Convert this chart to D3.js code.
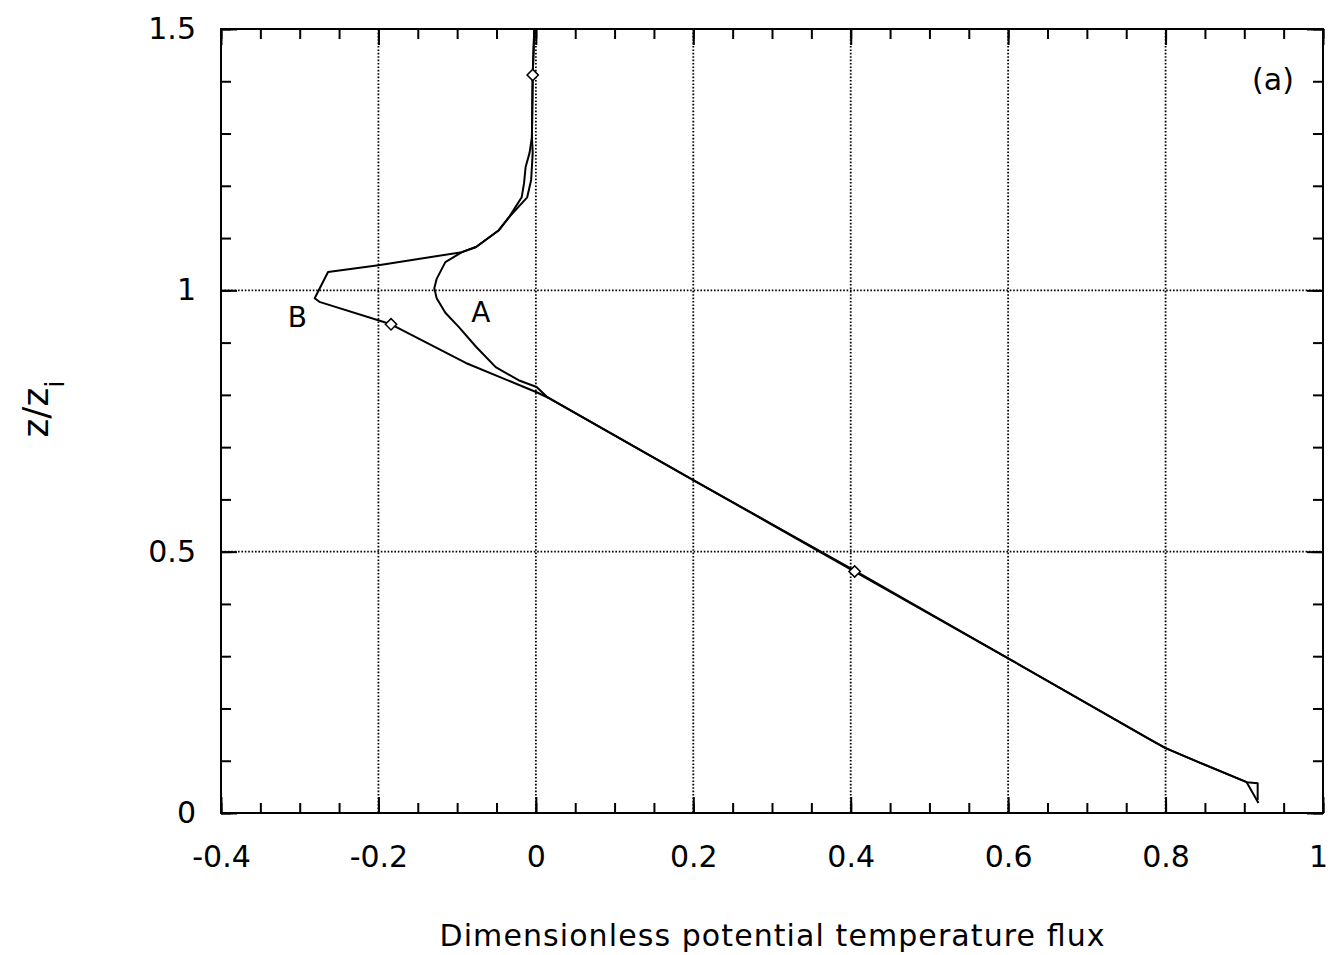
<!DOCTYPE html>
<html><head><meta charset="utf-8">
<script src="https://cdn.jsdelivr.net/npm/d3@7"></script>
<style>
body{margin:0;background:#fff}
text{font-family:"DejaVu Sans",sans-serif;fill:#000}
</style>
</head><body>
<svg id="c" width="1331" height="955"></svg>
<script>
// ---- data ----
const xTickValues = [-0.4, -0.2, 0, 0.2, 0.4, 0.6, 0.8, 1];
const yTickValues = [0, 0.5, 1, 1.5];
const xLabel = "Dimensionless potential temperature flux";
const panelLabel = "(a)";

// curve A (flux, height)
const curveAFlux   = [0.918, 0.903, 0.844, 0.800, 0.780, 0.600, 0.400, 0.200, 0.015, 0.001, -0.022, -0.051, -0.076, -0.098, -0.115, -0.126, -0.129, -0.126, -0.115, -0.094, -0.076, -0.047, -0.034, -0.018, -0.015, -0.013, -0.008, -0.005, -0.004, -0.002];
const curveAHeight = [0.019, 0.059, 0.096, 0.124, 0.141, 0.296, 0.468, 0.637, 0.795, 0.815, 0.828, 0.853, 0.892, 0.930, 0.957, 0.985, 1.004, 1.022, 1.054, 1.073, 1.083, 1.115, 1.140, 1.178, 1.205, 1.236, 1.263, 1.293, 1.412, 1.500];

// curve B (flux, height)
const curveBFlux   = [0.917, 0.917, 0.903, 0.844, 0.800, 0.780, 0.600, 0.405, 0.200, 0.015, 0.001, -0.089, -0.184, -0.275, -0.281, -0.264, -0.200, -0.094, -0.076, -0.047, -0.034, -0.011, -0.006, -0.004, -0.005, -0.004, -0.002];
const curveBHeight = [0.025, 0.057, 0.059, 0.096, 0.124, 0.141, 0.296, 0.462, 0.637, 0.795, 0.805, 0.861, 0.935, 0.978, 0.985, 1.035, 1.048, 1.073, 1.083, 1.115, 1.140, 1.178, 1.211, 1.263, 1.293, 1.412, 1.500];

// diamond markers on curve B
const markerFlux   = [0.405, -0.184, -0.004];
const markerHeight = [0.462, 0.935, 1.412];

// curve labels
const curveLabels = [{text: "A", flux: -0.070, height: 0.939}, {text: "B", flux: -0.303, height: 0.930}];

// ---- layout ----
const m = {left: 221, right: 1323, top: 29, bottom: 813};
const svg = d3.select("#c");
const x = d3.scaleLinear().domain([-0.4, 1]).range([m.left, m.right]);
const y = d3.scaleLinear().domain([0, 1.5]).range([m.bottom, m.top]);

const xMinor = d3.range(-0.4, 1.0001, 0.05).map(v => +v.toFixed(2));
const yMinor = d3.range(0, 1.5001, 0.1).map(v => +v.toFixed(2));

// grid
const grid = svg.append("g").attr("stroke", "#000").attr("stroke-width", 1.8).attr("stroke-dasharray", "1.6,1.8");
grid.selectAll("line.gx").data(xTickValues.slice(1, -1)).join("line")
  .attr("x1", d => x(d)).attr("x2", d => x(d)).attr("y1", m.top).attr("y2", m.bottom);
grid.selectAll("line.gy").data(yTickValues.slice(1, -1)).join("line")
  .attr("y1", d => y(d)).attr("y2", d => y(d)).attr("x1", m.left).attr("x2", m.right);

function styleAxis(g) {
  g.select(".domain").remove();
  g.selectAll(".tick line").attr("stroke", "#000").attr("stroke-width", 2);
  g.selectAll(".tick text").attr("font-size", 30).attr("font-family", "DejaVu Sans").attr("fill", "#000");
}
const fmt = d => String(d);

// minor ticks
svg.append("g").attr("transform", `translate(0,${m.bottom})`)
  .call(d3.axisBottom(x).tickValues(xMinor).tickSize(-10).tickFormat("")).call(styleAxis);
svg.append("g").attr("transform", `translate(0,${m.top})`)
  .call(d3.axisTop(x).tickValues(xMinor).tickSize(-10).tickFormat("")).call(styleAxis);
svg.append("g").attr("transform", `translate(${m.left},0)`)
  .call(d3.axisLeft(y).tickValues(yMinor).tickSize(-10).tickFormat("")).call(styleAxis);
svg.append("g").attr("transform", `translate(${m.right},0)`)
  .call(d3.axisRight(y).tickValues(yMinor).tickSize(-10).tickFormat("")).call(styleAxis);

// major ticks + labels
const xAxisG = svg.append("g").attr("transform", `translate(0,${m.bottom})`)
  .call(d3.axisBottom(x).tickValues(xTickValues).tickSize(-16).tickPadding(33).tickFormat(fmt)).call(styleAxis);
xAxisG.selectAll(".tick text").filter(d => d === 1).attr("dx", -5);
svg.append("g").attr("transform", `translate(0,${m.top})`)
  .call(d3.axisTop(x).tickValues(xTickValues).tickSize(-16).tickFormat("")).call(styleAxis);
svg.append("g").attr("transform", `translate(${m.left},0)`)
  .call(d3.axisLeft(y).tickValues(yTickValues).tickSize(-16).tickPadding(25).tickFormat(fmt)).call(styleAxis);
svg.append("g").attr("transform", `translate(${m.right},0)`)
  .call(d3.axisRight(y).tickValues(yTickValues).tickSize(-16).tickFormat("")).call(styleAxis);

// border
svg.append("rect").attr("x", m.left).attr("y", m.top).attr("width", m.right - m.left).attr("height", m.bottom - m.top)
  .attr("fill", "none").attr("stroke", "#000").attr("stroke-width", 2);

// curves
const line = d3.line().x(d => x(d[0])).y(d => y(d[1]));
const A = curveAFlux.map((v, i) => [v, curveAHeight[i]]);
const B = curveBFlux.map((v, i) => [v, curveBHeight[i]]);
[A, B].forEach(c => svg.append("path").datum(c).attr("d", line)
  .attr("fill", "none").attr("stroke", "#000").attr("stroke-width", 2).attr("stroke-linejoin", "round"));

// markers
svg.selectAll("path.mk").data(markerFlux.map((v, i) => [v, markerHeight[i]])).join("path")
  .attr("class", "mk")
  .attr("d", d3.symbol(d3.symbolSquare, 64)())
  .attr("transform", d => `translate(${x(d[0])},${y(d[1])}) rotate(45)`)
  .attr("fill", "#fff").attr("stroke", "#000").attr("stroke-width", 1.5);

// curve labels
svg.selectAll("text.cl").data(curveLabels).join("text")
  .attr("class", "cl")
  .attr("x", d => x(d.flux)).attr("y", d => y(d.height))
  .attr("text-anchor", "middle").attr("font-size", 28).text(d => d.text);

// panel label
svg.append("text").attr("x", 1273).attr("y", 90).attr("text-anchor", "middle").attr("font-size", 30).text(panelLabel);

// x axis title
svg.append("text").attr("x", (m.left + m.right) / 2).attr("y", 946).attr("text-anchor", "middle")
  .attr("font-size", 30).attr("textLength", 665).attr("lengthAdjust", "spacing").text(xLabel);

// y axis title
const yt = svg.append("text").attr("transform", "translate(48,409) rotate(-90)").attr("text-anchor", "middle").attr("font-size", 36);
yt.append("tspan").text("z/z");
yt.append("tspan").attr("font-size", 26).attr("dy", 16).text("i");
</script>
</body></html>
